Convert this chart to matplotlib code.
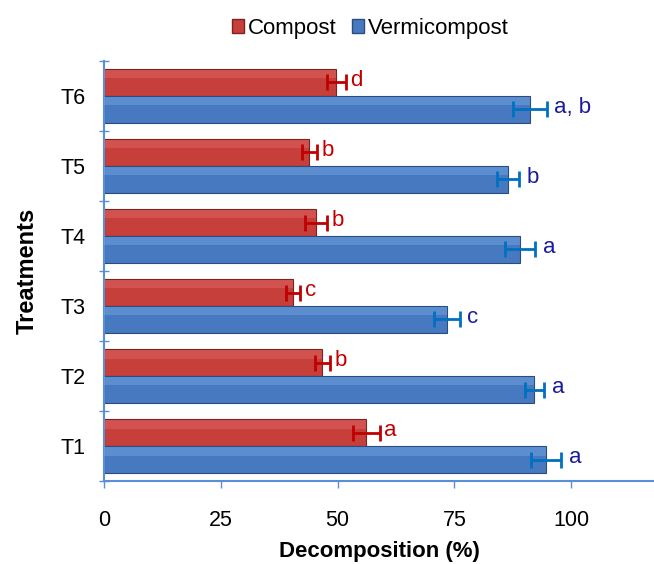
import numpy as np
import matplotlib.pyplot as plt
from matplotlib.patches import Patch

plt.rcParams['font.family'] = ['Liberation Sans', 'DejaVu Sans']

# Data
treatments = ['T1', 'T2', 'T3', 'T4', 'T5', 'T6']
compost = [56.1, 46.7, 40.5, 45.4, 43.9, 49.7]
compost_err = [2.9, 1.6, 1.5, 2.4, 1.6, 2.0]
compost_sig = ['a', 'b', 'c', 'b', 'b', 'd']
vermi = [94.6, 92.1, 73.4, 89.1, 86.5, 91.2]
vermi_err = [3.3, 2.1, 2.7, 3.2, 2.4, 3.6]
vermi_sig = ['a', 'a', 'c', 'a', 'b', 'a, b']

red = '#C63F3B'
blue = '#4779C0'
axis_col = '#5B8ED6'

fig = plt.figure(figsize=(6.54, 5.64), dpi=100)
ax = fig.add_axes([0.159, 0.147, 0.841, 0.745])

y = np.arange(len(treatments))
h = 0.385
off = h / 2

ax.barh(y + off, compost, height=h, color=red, edgecolor='#7A2420', linewidth=0.8, zorder=2)
ax.barh(y - off, vermi, height=h, color=blue, edgecolor='#2B4C7E', linewidth=0.8, zorder=2)
# soft highlight near the top of each bar
ax.barh(y + off + h * 0.3, compost, height=h * 0.3, color='#F08080', alpha=0.3, linewidth=0, zorder=3)
ax.barh(y - off + h * 0.3, vermi, height=h * 0.3, color='#8CBDF5', alpha=0.3, linewidth=0, zorder=3)

ax.errorbar(compost, y + off, xerr=compost_err, fmt='none', ecolor='#C00000',
            elinewidth=2, capsize=6, capthick=2, zorder=4)
ax.errorbar(vermi, y - off, xerr=vermi_err, fmt='none', ecolor='#0070C0',
            elinewidth=2, capsize=6, capthick=2, zorder=4)

for i in range(len(treatments)):
    ax.text(compost[i] + compost_err[i] + 1.0, y[i] + off + 0.03, compost_sig[i],
            color='#C00000', fontsize=16, ha='left', va='center')
    ax.text(vermi[i] + vermi_err[i] + 1.6, y[i] - off + 0.03, vermi_sig[i],
            color='#1A1A9A', fontsize=16, ha='left', va='center')

ax.set_xlim(0, 117.7)
ax.set_ylim(-0.5, 5.5)
ax.set_xticks([0, 25, 50, 75, 100])
ax.set_yticks(y)
ax.set_yticklabels(treatments)
ax.set_yticks(np.arange(-0.5, 6, 1), minor=True)
ax.tick_params(axis='y', which='major', length=0, labelsize=15.5, pad=13)
ax.tick_params(axis='y', which='minor', length=7, direction='inout', color=axis_col, width=1)
ax.tick_params(axis='x', length=5, color=axis_col, width=1, labelsize=15.5, pad=16)

for s in ['top', 'right']:
    ax.spines[s].set_visible(False)
for s in ['left', 'bottom']:
    ax.spines[s].set_color(axis_col)
    ax.spines[s].set_linewidth(1.5)

ax.set_xlabel('Decomposition (%)', fontsize=16, fontweight='bold', labelpad=7)
ax.set_ylabel('Treatments', fontsize=17, fontweight='bold', labelpad=16)

handles = [Patch(facecolor=red, edgecolor='#7A2420'), Patch(facecolor=blue, edgecolor='#2B4C7E')]
fig.legend(handles, ['Compost', 'Vermicompost'], loc='center', bbox_to_anchor=(0.566, 0.95),
           ncol=2, frameon=False, fontsize=16, handlelength=0.55, handleheight=0.55,
           handletextpad=0.15, columnspacing=0.7)

fig.savefig('out.png', dpi=100)
